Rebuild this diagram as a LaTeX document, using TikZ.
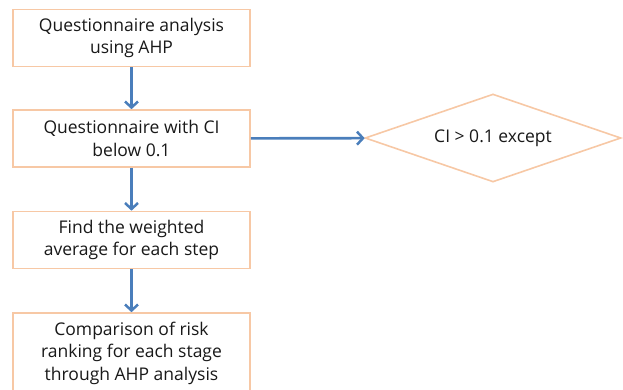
\documentclass[tikz,border=0pt]{standalone}
\usepackage{fontspec}
\setmainfont{Open Sans}
\usepackage{xcolor}
\usetikzlibrary{arrows.meta,shapes.geometric}
\definecolor{boxline}{RGB}{247,200,165}
\definecolor{flowblue}{RGB}{74,126,187}
\tikzset{
  stepbox/.style={draw=boxline,line width=1.6pt,fill=white,align=center,
    minimum width=237pt,minimum height=57pt,inner sep=0pt,
    font=\fontsize{17.5}{22.5}\selectfont,text=black!90},
  checkbox/.style={diamond,aspect=2.9,draw=boxline,line width=1.6pt,fill=white,
    minimum width=256pt,minimum height=88pt,inner sep=0pt,
    font=\fontsize{17.5}{22.5}\selectfont,text=black!90},
  flowarrow/.style={-{Straight Barb[length=6pt,width=13pt,line width=2.5pt]},
    draw=flowblue,line width=2.6pt}
}
\begin{document}
\begin{tikzpicture}[x=1pt,y=-1pt]
  \clip (0,0) rectangle (623,389);
  \node[stepbox] (survey) at (131.5,38) {Questionnaire analysis\\using AHP};
  \node[stepbox] (valid) at (131.5,138.5) {Questionnaire with CI\\below 0.1};
  \node[stepbox] (weight) at (131.5,240) {Find the weighted\\average for each step};
  \node[stepbox,minimum height=80pt] (rank) at (131.5,353)
    {Comparison of risk\\ranking for each stage\\through AHP analysis};
  \node[checkbox] (except) at (493,138) {CI > 0.1 except};
  % flow
  \draw[flowarrow] (survey) -- (valid);
  \draw[flowarrow] (valid) -- (weight);
  \draw[flowarrow] (weight) -- (rank);
  \draw[flowarrow] (valid) -- (except);
\end{tikzpicture}
\end{document}
